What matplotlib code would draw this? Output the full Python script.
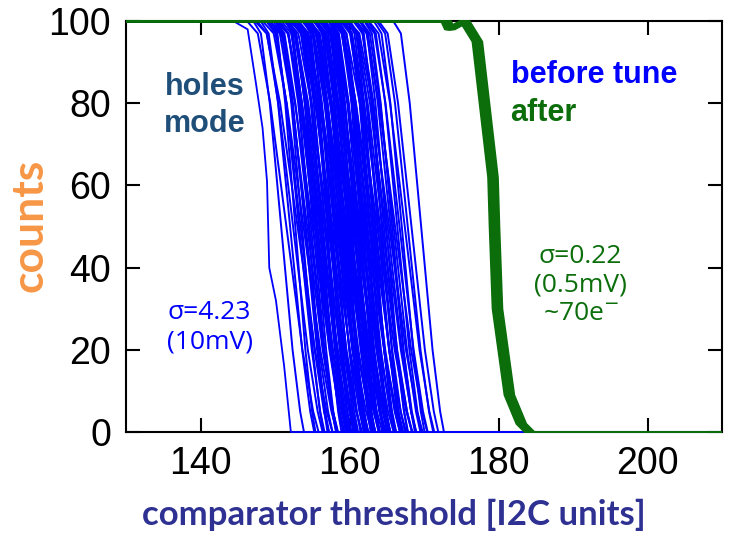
import numpy as np
import matplotlib.pyplot as plt
import matplotlib.transforms as mtrans

# threshold at 50 counts of each channel, "before tune"
blue_mid = [149.0, 150.8, 151.5, 152.0, 152.4, 152.7, 153.0, 153.2, 153.4, 153.6,
            153.8, 154.0, 154.1, 154.3, 154.5, 154.6, 154.8, 155.0, 155.1, 155.3,
            155.4, 155.6, 155.7, 155.9, 156.0, 156.2, 156.3, 156.4, 156.6, 156.7,
            156.8, 157.0, 157.1, 157.2, 157.4, 157.5, 157.6, 157.7, 157.9, 158.0,
            158.1, 158.2, 158.4, 158.5, 158.6, 158.7, 158.8, 159.0, 159.1, 159.2,
            159.3, 159.4, 159.5, 159.7, 159.8, 159.9, 160.0, 160.1, 160.2, 160.4,
            160.5, 160.6, 160.7, 160.8, 160.9, 161.1, 161.2, 161.3, 161.4, 161.5,
            161.7, 161.8, 161.9, 162.0, 162.2, 162.3, 162.4, 162.6, 162.7, 162.8,
            163.0, 163.1, 163.2, 163.4, 163.5, 163.7, 163.8, 164.0, 164.1, 164.3,
            164.4, 164.6, 164.8, 164.9, 165.1, 165.3, 165.5, 165.7, 165.9, 166.1,
            166.4, 166.7, 167.0, 167.4, 167.8, 168.3, 169.6, 158.3, 160.3, 161.0,
            157.3, 159.6, 162.1, 156.1, 163.3, 158.9, 160.0, 161.6, 155.5, 159.0]
# width of each s-curve relative to the typical one
blue_width = [1.00, 0.85, 1.20, 0.90, 1.10, 0.75, 1.30, 0.95, 1.05, 0.80,
              1.25, 0.90, 1.00, 1.15, 0.70, 1.05, 0.95, 1.30, 0.85, 1.10,
              0.80, 1.20, 0.95, 1.00, 1.35, 0.75, 1.10, 0.90, 1.20, 0.85,
              1.05, 0.70, 1.25, 0.95, 1.00, 1.15, 0.80, 1.30, 0.90, 1.10,
              0.75, 1.20, 0.85, 1.05, 1.35, 0.95, 1.00, 0.80, 1.15, 0.90,
              1.30, 0.85, 1.10, 0.70, 1.00, 1.25, 0.90, 1.05, 0.80, 1.20,
              0.95, 1.15, 0.75, 1.30, 0.85, 1.00, 1.10, 0.90, 1.25, 0.70,
              1.05, 0.80, 1.20, 0.95, 1.35, 0.85, 1.00, 1.15, 0.75, 1.10,
              0.90, 1.25, 0.80, 1.05, 1.00, 1.30, 0.85, 0.95, 1.20, 0.75,
              1.10, 0.90, 1.15, 0.80, 1.05, 1.25, 0.95, 0.85, 1.00, 1.20,
              0.90, 1.05, 0.85, 1.10, 0.95, 1.00, 0.85, 1.30, 0.70, 1.15,
              0.80, 1.25, 0.90, 1.10, 0.75, 1.20, 1.35, 0.95, 1.05, 0.85]
# after tune
green_mid = [178.8, 178.9, 178.95, 179.0, 179.05, 179.1, 179.1, 179.15, 179.2, 179.2,
             179.25, 179.25, 179.3, 179.3, 179.3, 179.35, 179.35, 179.4, 179.4, 179.4,
             179.45, 179.45, 179.5, 179.5, 179.5, 179.55, 179.55, 179.6, 179.6, 179.65,
             179.7, 179.7, 179.75, 179.8, 179.85, 179.9, 180.0, 180.1]

# shape of one s-curve: counts vs offset from its 50% point
blue_counts = [100, 100, 97, 80, 50, 20, 5, 0, 0]
blue_dx = [-40, -4.4, -3.2, -1.8, 0, 1.8, 3.0, 3.6, 60]
leftmost_counts = [100, 100, 98, 85, 74, 61, 40, 32, 16, 0, 0]
leftmost_x = [110, 144.4, 146.3, 147.4, 148.3, 148.9, 149.2, 150.1, 151.2, 152.1, 210]
green_counts = [100, 100, 98, 100, 95, 62, 50, 30, 9, 2, 0, 0]
green_dx = [-60, -6.5, -6.0, -4.0, -2.3, -0.2, 0, 0.4, 2.0, 3.6, 4.7, 40]

blue = '#0000FF'
green = '#0B6E0B'

fig = plt.figure(figsize=(7.3, 5.35), dpi=100)
ax = fig.add_axes([0.173, 0.1925, 0.816, 0.768])

ax.plot(leftmost_x, leftmost_counts, color=blue, lw=1.3, zorder=3)
for m, w in zip(blue_mid[1:], blue_width[1:]):
    ax.plot(np.array(blue_dx) * w + m, blue_counts, color=blue, lw=1.4, zorder=3)
for m in green_mid:
    ax.plot(np.array(green_dx) + m, green_counts, color=green, lw=1.4, zorder=4)

# let the flat parts at 0 and 100 show fully on the frame
clip = mtrans.TransformedBbox(mtrans.Bbox([[0, -0.03], [1, 1.03]]), ax.transAxes)
for ln in ax.lines:
    ln.set_clip_box(clip)

ax.set_xlim(130, 210)
ax.set_ylim(0, 100)
ax.set_xticks([140, 160, 180, 200])
ax.set_yticks([0, 20, 40, 60, 80, 100])
ax.tick_params(direction='in', length=10, width=1.5, top=True, right=True,
               labelsize=27)
ax.tick_params(axis='x', pad=10)
ax.tick_params(axis='y', pad=11)
for lab in ax.get_xticklabels() + ax.get_yticklabels():
    lab.set_fontfamily('Liberation Sans')
for s in ax.spines.values():
    s.set_linewidth(1.5)

ax.text(140.5, 79.5, 'holes\nmode', color='#1F4E79', fontsize=22, fontweight='bold',
        family='Liberation Sans', ha='center', va='center', linespacing=1.3)
ax.text(181.6, 87, 'before tune', color=blue, fontsize=22, fontweight='bold',
        family='Liberation Sans', ha='left', va='center')
ax.text(181.6, 77.6, 'after', color=green, fontsize=22, fontweight='bold',
        family='Liberation Sans', ha='left', va='center')
ax.text(141.2, 25.5, 'σ=4.23\n(10mV)', color=blue, fontsize=19,
        family='Open Sans', ha='center', va='center', linespacing=1.2)
ax.text(191.0, 35.8, 'σ=0.22\n(0.5mV)\n~70e$^{-}$', color=green, fontsize=19,
        family='Open Sans', ha='center', va='center', linespacing=1.2)

fig.text(0.54, 0.037, 'comparator threshold [I2C units]', color='#2E3192',
         fontsize=25, fontweight='bold', family='Lato', ha='center', va='center')
fig.text(0.041, 0.579, 'counts', color='#F79646', fontsize=32, fontweight='bold',
         family='Lato', ha='center', va='center', rotation=90)

fig.savefig('out.png', dpi=100)
